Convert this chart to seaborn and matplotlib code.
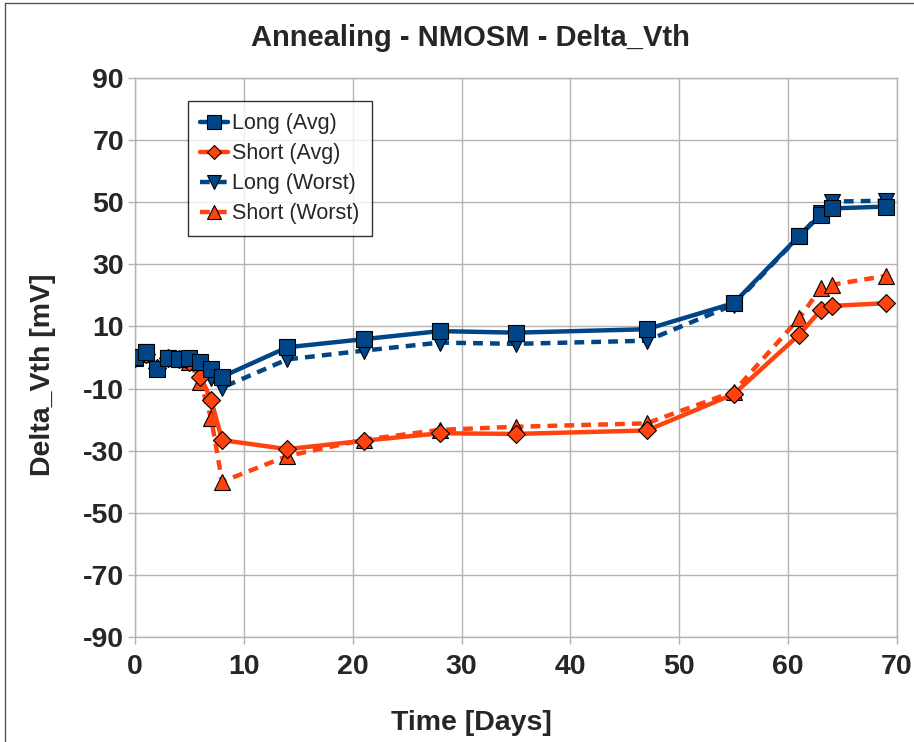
import matplotlib
matplotlib.use("Agg")
import matplotlib.pyplot as plt
import seaborn as sns
import pandas as pd
from matplotlib.lines import Line2D

days = [0, 1, 2, 3, 4, 5, 6, 7, 8, 14, 21, 28, 35, 47, 55, 61, 63, 64, 69]
long_avg = [0.3, 1.7, -3.8, -0.2, -0.5, 0.0, -1.3, -3.7, -6.2, 3.3, 5.9, 8.5, 8.0, 9.1, 17.5, 39.1, 45.9, 48.0, 48.6]
short_avg = [0.0, 1.0, -3.5, -0.3, -0.6, -1.5, -6.2, -13.7, -26.6, -29.5, -26.8, -24.4, -24.6, -23.5, -11.8, 7.3, 15.3, 16.6, 17.5]
long_worst = [0.3, 1.7, -3.8, -0.2, -0.5, -0.5, -2.0, -6.7, -9.7, -0.6, 2.2, 4.8, 4.4, 5.4, 17.0, 39.0, 46.5, 50.2, 50.5]
short_worst = [0.0, 1.0, -3.5, -0.3, -0.6, -1.5, -7.8, -19.6, -40.0, -31.7, -26.5, -23.3, -22.3, -21.2, -11.0, 12.6, 22.3, 23.4, 26.3]

series_names = ["Long (Avg)", "Short (Avg)", "Long (Worst)", "Short (Worst)"]
x_ticks = [0, 10, 20, 30, 40, 50, 60, 70]
y_ticks = [90, 70, 50, 30, 10, -10, -30, -50, -70, -90]

BLUE = "#004586"
ORANGE = "#ff420e"

sns.set_theme(style="white")
plt.rcParams["font.family"] = ["Liberation Sans", "DejaVu Sans"]
plt.rcParams["axes.unicode_minus"] = False

fig = plt.figure(figsize=(9.14, 7.42), dpi=100)
ax = fig.add_axes([135/914, 1-637/742, 762/914, 559/742])

styles = {
    "Long (Avg)": dict(color=BLUE, marker="s", ls="-", ms=12, y=long_avg),
    "Short (Avg)": dict(color=ORANGE, marker="D", ls="-", ms=9, y=short_avg),
    "Long (Worst)": dict(color=BLUE, marker="v", ls=(0, (2.2, 1.6)), ms=12, y=long_worst),
    "Short (Worst)": dict(color=ORANGE, marker="^", ls=(0, (2.2, 1.6)), ms=12, y=short_worst),
}

order = ["Long (Worst)", "Short (Worst)", "Short (Avg)", "Long (Avg)"]
z = {"Long (Worst)": 3, "Short (Worst)": 4, "Short (Avg)": 5, "Long (Avg)": 6}
for name in order:
    st = styles[name]
    df = pd.DataFrame({"day": days, "val": st["y"]})
    sns.lineplot(data=df, x="day", y="val", ax=ax, color=st["color"], lw=3.2,
                 linestyle=st["ls"], marker=st["marker"], markersize=st["ms"],
                 markeredgecolor="black", markeredgewidth=0.8, zorder=z[name],
                 sort=False, estimator=None)

ax.set_xlim(0, 70)
ax.set_ylim(-90, 90)
ax.set_xticks(x_ticks)
ax.set_yticks(y_ticks)
ax.grid(True, color="#b3b3b3", lw=1)
ax.set_axisbelow(True)
for s in ax.spines.values():
    s.set_color("#b3b3b3")
    s.set_linewidth(1)
ax.tick_params(axis="both", which="both", length=5, width=1, color="#b3b3b3",
               labelsize=20.5, direction="out", left=True, bottom=True)
ax.tick_params(axis="y", pad=3)
ax.tick_params(axis="x", pad=7)
for lab in ax.get_xticklabels() + ax.get_yticklabels():
    lab.set_fontweight("bold")

ax.set_xlabel("Time [Days]", fontsize=20.5, fontweight="bold", va="top")
ax.xaxis.set_label_coords(0.4416, -0.130)
ax.set_ylabel("Delta_Vth [mV]", fontsize=20.5, fontweight="bold", va="center")
ax.yaxis.set_label_coords(-0.121, 0.47)
fig.text(470/914, 1-38/742, "Annealing - NMOSM - Delta_Vth", ha="center", va="center",
         fontsize=21, fontweight="bold")

handles = []
for name in series_names:
    st = styles[name]
    handles.append(Line2D([0], [0], color=st["color"], lw=3.2, ls=st["ls"], marker=st["marker"],
                          ms=st["ms"] * 0.8, markeredgecolor="black", markeredgewidth=0.8))
leg = ax.legend(handles, series_names, loc="upper left", bbox_to_anchor=(0.070, 0.958),
                fontsize=15.5, frameon=True, fancybox=False, edgecolor="black",
                handlelength=1.3, handletextpad=0.2, borderpad=0.55, labelspacing=0.42,
                borderaxespad=0)
leg.get_frame().set_linewidth(1)
leg.set_zorder(10)

fig.add_artist(Line2D([5/914, 5/914], [0, 1-3/742], transform=fig.transFigure, color="#555555", lw=1))
fig.add_artist(Line2D([5/914, 1], [1-3/742, 1-3/742], transform=fig.transFigure, color="#555555", lw=1))

fig.savefig("out.png", dpi=100)
